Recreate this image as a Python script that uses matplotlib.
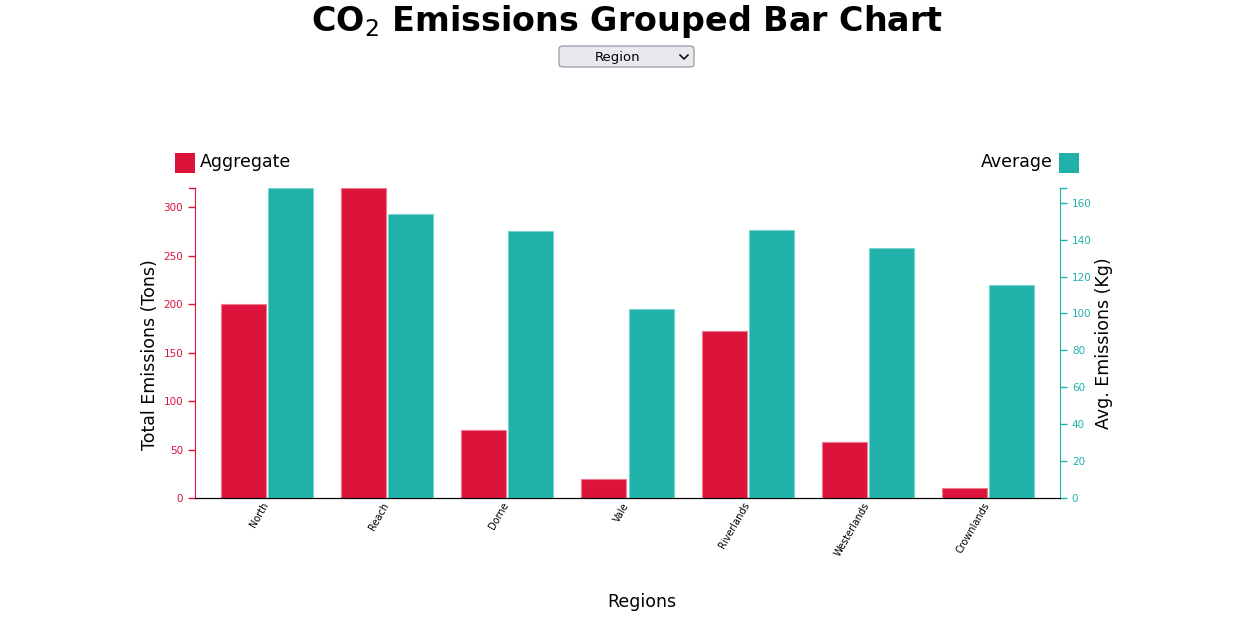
import matplotlib
matplotlib.use("Agg")
import matplotlib.pyplot as plt
from matplotlib.patches import FancyBboxPatch, Rectangle
from matplotlib.lines import Line2D
from matplotlib.transforms import ScaledTranslation
import numpy as np

regions = ["North", "Reach", "Dorne", "Vale", "Riverlands", "Westerlands", "Crownlands"]
aggregate = [200, 320, 70, 20, 172, 58, 10]
average = [168, 154, 144.5, 102.5, 145.5, 135.5, 115.5]
left_ticks = [0, 50, 100, 150, 200, 250, 300]
right_ticks = [0, 20, 40, 60, 80, 100, 120, 140, 160]

RED = "#DC143C"
TEAL = "#20B2AA"
W, H = 1254, 618

fig = plt.figure(figsize=(W / 100, H / 100), dpi=100)
ax = fig.add_axes([195 / W, 1 - 498 / H, (1060 - 195) / W, (498 - 188) / H])
ax2 = ax.twinx()

x = np.arange(len(regions))
bw = 0.375
off = 0.196
ax.bar(x - off, aggregate, width=bw, color=RED, edgecolor="#f07a90", linewidth=0.8, zorder=2)
ax2.bar(x + off, average, width=bw, color=TEAL, edgecolor="#79d3cd", linewidth=0.8, zorder=2)

ax.set_xlim(-0.6, 6.6)
ax.set_ylim(0, max(aggregate))
ax2.set_ylim(0, max(average))

ax.set_xticks(x)
ax.set_xticklabels(regions, rotation=60, ha="right", va="top", rotation_mode="anchor", fontsize=7)
ax.tick_params(axis="x", length=0, pad=2)
shift = ScaledTranslation(-5 / 100, 0, fig.dpi_scale_trans)
for lbl in ax.get_xticklabels():
    lbl.set_transform(lbl.get_transform() + shift)

ax.set_yticks(left_ticks)
ax.tick_params(axis="y", colors=RED, labelsize=7.5, length=5, width=1)
ax2.set_yticks(right_ticks)
ax2.tick_params(axis="y", colors=TEAL, labelsize=7.5, length=5, width=1)

for a in (ax, ax2):
    a.spines["top"].set_visible(False)
ax.spines["left"].set_color(RED)
ax.spines["right"].set_visible(False)
ax2.spines["left"].set_visible(False)
ax2.spines["right"].set_color(TEAL)
ax2.spines["bottom"].set_color("black")
ax.spines["bottom"].set_color("black")

# outer ticks at top of axes
fig.add_artist(Line2D([189 / W, 195 / W], [1 - 188 / H, 1 - 188 / H], color=RED, lw=1))
fig.add_artist(Line2D([1060 / W, 1066 / W], [1 - 188 / H, 1 - 188 / H], color=TEAL, lw=1))

lab_font = dict(fontsize=12.5, family="DejaVu Sans")
fig.text(150 / W, 1 - 355 / H, "Total Emissions (Tons)", rotation=90, ha="center", va="center", **lab_font)
fig.text(1104 / W, 1 - 343 / H, "Avg. Emissions (Kg)", rotation=90, ha="center", va="center", **lab_font)
fig.text(642 / W, 1 - 602 / H, "Regions", ha="center", va="center", **lab_font)

# title
fig.text(627 / W, 1 - 22 / H, "CO$_2$ Emissions Grouped Bar Chart", ha="center", va="center",
         fontsize=24, fontweight="bold", family="DejaVu Sans")

# dropdown
box = FancyBboxPatch((559 / W, 1 - 67 / H), (694 - 559) / W, (67 - 46) / H,
                     boxstyle="round,pad=0,rounding_size=0.004", transform=fig.transFigure,
                     facecolor="#e9e9ed", edgecolor="#8f8f9d", linewidth=0.8)
fig.add_artist(box)
fig.text(618 / W, 1 - 57 / H, "Region", ha="center", va="center", fontsize=9.5, family="DejaVu Sans")
fig.add_artist(Line2D([680 / W, 684 / W, 688 / W], [1 - 55 / H, 1 - 59 / H, 1 - 55 / H],
                      color="black", lw=1.1))

# legend
fig.add_artist(Rectangle((175 / W, 1 - 173 / H), 20 / W, 20 / H, transform=fig.transFigure,
                         facecolor=RED, edgecolor="none"))
fig.text(200 / W, 1 - 162 / H, "Aggregate", ha="left", va="center", **lab_font)
fig.add_artist(Rectangle((1059 / W, 1 - 173 / H), 20 / W, 20 / H, transform=fig.transFigure,
                         facecolor=TEAL, edgecolor="none"))
fig.text(1053 / W, 1 - 162 / H, "Average", ha="right", va="center", **lab_font)

fig.savefig("out.png", dpi=100)
